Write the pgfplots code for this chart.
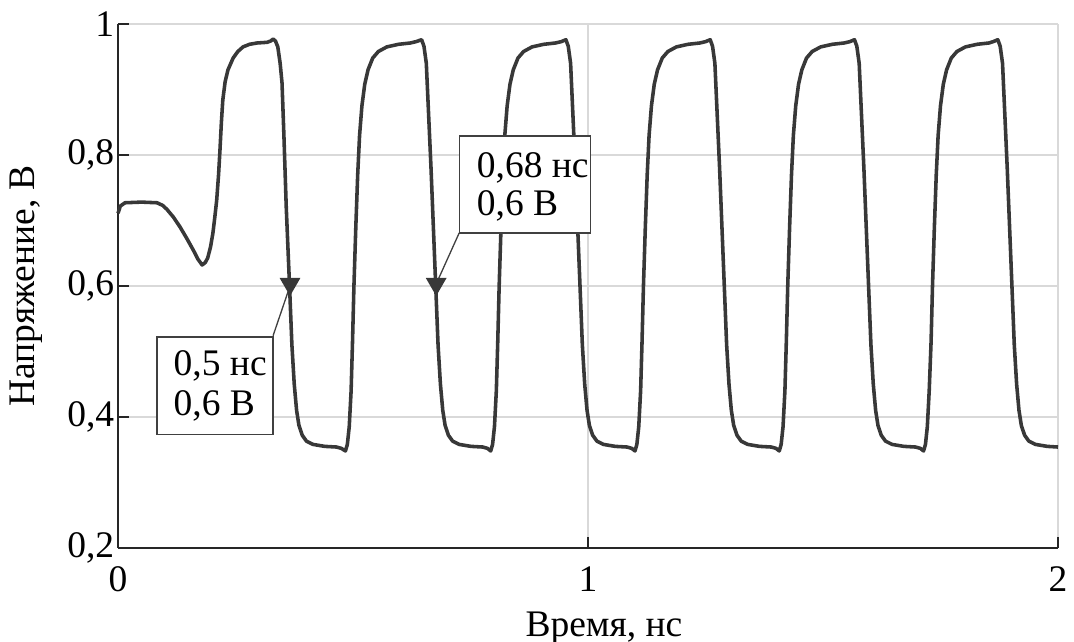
\documentclass[border=0pt]{standalone}
\usepackage{fontspec}
\setmainfont{Liberation Serif}
\usepackage{pgfplots}
\pgfplotsset{compat=1.18}
\definecolor{wave}{HTML}{383838}
\definecolor{gridc}{HTML}{D9D9D9}
\definecolor{boxc}{HTML}{404040}
\begin{document}
\begin{tikzpicture}
\begin{axis}[
  name=ax,
  scale only axis,
  width=250.7pt, height=139.73pt,
  xmin=0, xmax=2, ymin=0.2, ymax=1,
  xtick={0,1,2}, ytick={0.2,0.4,0.6,0.8,1},
  axis x line*=bottom, axis y line*=left,
  axis line style={line width=0.55pt, color=black!85},
  tick align=inside, major tick length=3pt,
  tick style={line width=0.45pt, color=black!85},
  grid=major, major grid style={line width=0.5pt, color=gridc},
  /pgf/number format/assume math mode=true,
  /pgf/number format/use comma,
  yticklabel style={inner xsep=0.8pt, /pgf/number format/fixed, /pgf/number format/precision=1},
  xticklabel style={inner ysep=4.9pt},
  xlabel={Время, нс}, ylabel={Напряжение, В},
  every axis x label/.style={at={(axis description cs:0.517,-0.153)}, anchor=center},
  every axis y label/.style={at={(axis description cs:-0.098,0.5)}, rotate=90, anchor=center},
  clip=false,
]
\addplot[wave, line width=0.95pt, line join=round] coordinates {
(0,0.711) (0.005,0.722) (0.015,0.727) (0.05,0.728) (0.083,0.727) (0.095,0.723) (0.104,0.717)
(0.118,0.705) (0.132,0.690) (0.146,0.673) (0.160,0.655) (0.170,0.641) (0.179,0.632) (0.186,0.636)
(0.191,0.643) (0.197,0.660) (0.202,0.681) (0.206,0.705) (0.210,0.731) (0.214,0.770) (0.217,0.808)
(0.220,0.850) (0.223,0.884) (0.228,0.912) (0.234,0.930) (0.245,0.948) (0.255,0.958) (0.266,0.965)
(0.280,0.969) (0.296,0.971) (0.317,0.972) (0.325,0.974) (0.330,0.977) (0.335,0.974) (0.340,0.965)
(0.345,0.940) (0.349,0.910) (0.353,0.830) (0.358,0.720) (0.365,0.600)
(0.370,0.510) (0.375,0.450) (0.380,0.410) (0.385,0.387) (0.392,0.372) (0.401,0.363) (0.415,0.358)
(0.440,0.355) (0.465,0.354) (0.475,0.352) (0.484,0.348)
(0.488,0.358) (0.492,0.385) (0.496,0.440) (0.499,0.515) (0.502,0.600) (0.506,0.690) (0.510,0.770)
(0.514,0.830) (0.519,0.875) (0.525,0.908) (0.532,0.930) (0.542,0.948) (0.554,0.958) (0.572,0.965)
(0.597,0.969) (0.622,0.971) (0.634,0.973) (0.646,0.976)
(0.651,0.966) (0.656,0.940) (0.661,0.860) (0.666,0.780) (0.671,0.690) (0.676,0.600) (0.681,0.510)
(0.686,0.450) (0.691,0.410) (0.696,0.387) (0.703,0.372) (0.712,0.363) (0.726,0.358) (0.751,0.355)
(0.776,0.354) (0.786,0.352) (0.793,0.348)
(0.797,0.358) (0.801,0.385) (0.805,0.440) (0.808,0.515) (0.811,0.600) (0.815,0.690) (0.819,0.770)
(0.823,0.830) (0.828,0.875) (0.834,0.908) (0.841,0.930) (0.851,0.948) (0.863,0.958) (0.881,0.965)
(0.906,0.969) (0.931,0.971) (0.943,0.973) (0.953,0.976)
(0.958,0.966) (0.963,0.940) (0.968,0.860) (0.973,0.780) (0.978,0.690) (0.983,0.600) (0.988,0.510)
(0.993,0.450) (0.998,0.410) (1.003,0.387) (1.010,0.372) (1.019,0.363) (1.033,0.358) (1.058,0.355)
(1.083,0.354) (1.093,0.352) (1.100,0.348)
(1.104,0.358) (1.108,0.385) (1.112,0.440) (1.115,0.515) (1.118,0.600) (1.122,0.690) (1.126,0.770)
(1.130,0.830) (1.135,0.875) (1.141,0.908) (1.148,0.930) (1.158,0.948) (1.170,0.958) (1.188,0.965)
(1.213,0.969) (1.238,0.971) (1.250,0.973) (1.260,0.976)
(1.265,0.966) (1.270,0.940) (1.275,0.860) (1.280,0.780) (1.285,0.690) (1.290,0.600) (1.295,0.510)
(1.300,0.450) (1.305,0.410) (1.310,0.387) (1.317,0.372) (1.326,0.363) (1.340,0.358) (1.365,0.355)
(1.390,0.354) (1.400,0.352) (1.407,0.348)
(1.411,0.358) (1.415,0.385) (1.419,0.440) (1.422,0.515) (1.425,0.600) (1.429,0.690) (1.433,0.770)
(1.437,0.830) (1.442,0.875) (1.448,0.908) (1.455,0.930) (1.465,0.948) (1.477,0.958) (1.495,0.965)
(1.520,0.969) (1.545,0.971) (1.557,0.973) (1.567,0.976)
(1.572,0.966) (1.577,0.940) (1.582,0.860) (1.587,0.780) (1.592,0.690) (1.597,0.600) (1.602,0.510)
(1.607,0.450) (1.612,0.410) (1.617,0.387) (1.624,0.372) (1.633,0.363) (1.647,0.358) (1.672,0.355)
(1.697,0.354) (1.707,0.352) (1.714,0.348)
(1.718,0.358) (1.722,0.385) (1.726,0.440) (1.730,0.515) (1.733,0.600) (1.737,0.690) (1.741,0.770)
(1.745,0.830) (1.750,0.875) (1.756,0.908) (1.763,0.930) (1.773,0.948) (1.785,0.958) (1.803,0.965)
(1.828,0.969) (1.853,0.971) (1.862,0.973) (1.872,0.976)
(1.877,0.966) (1.882,0.940) (1.887,0.860) (1.892,0.780) (1.897,0.690) (1.902,0.600) (1.907,0.510)
(1.912,0.450) (1.917,0.410) (1.922,0.387) (1.929,0.372) (1.938,0.363) (1.952,0.358) (1.977,0.355)
(2.000,0.354)
};
% callout lines
\draw[boxc, line width=0.35pt] (axis cs:0.330,0.524) -- (axis cs:0.366,0.600);
\draw[boxc, line width=0.35pt] (axis cs:0.726,0.681) -- (axis cs:0.677,0.603);
% markers
\addplot[only marks, mark=triangle*, mark size=2.8pt, color=wave, mark options={rotate=180, fill=wave}] coordinates {(0.366,0.603) (0.677,0.603)};
% boxes
\draw[fill=white, draw=boxc, line width=0.35pt] (axis cs:0.083,0.373) rectangle (axis cs:0.330,0.522);
\draw[fill=white, draw=boxc, line width=0.35pt] (axis cs:0.726,0.681) rectangle (axis cs:1.006,0.829);
\node[anchor=base west, inner sep=0pt] at (axis cs:0.117,0.4626) {0,5 нс};
\node[anchor=base west, inner sep=0pt] at (axis cs:0.117,0.4015) {0,6 В};
\node[anchor=base west, inner sep=0pt] at (axis cs:0.762,0.765) {0,68 нс};
\node[anchor=base west, inner sep=0pt] at (axis cs:0.762,0.708) {0,6 В};
\end{axis}
\pgfresetboundingbox
\path ([xshift=-31.47pt,yshift=-25.07pt]ax.south west) rectangle ([xshift=4.27pt,yshift=6.4pt]ax.north east);
\end{tikzpicture}
\end{document}
